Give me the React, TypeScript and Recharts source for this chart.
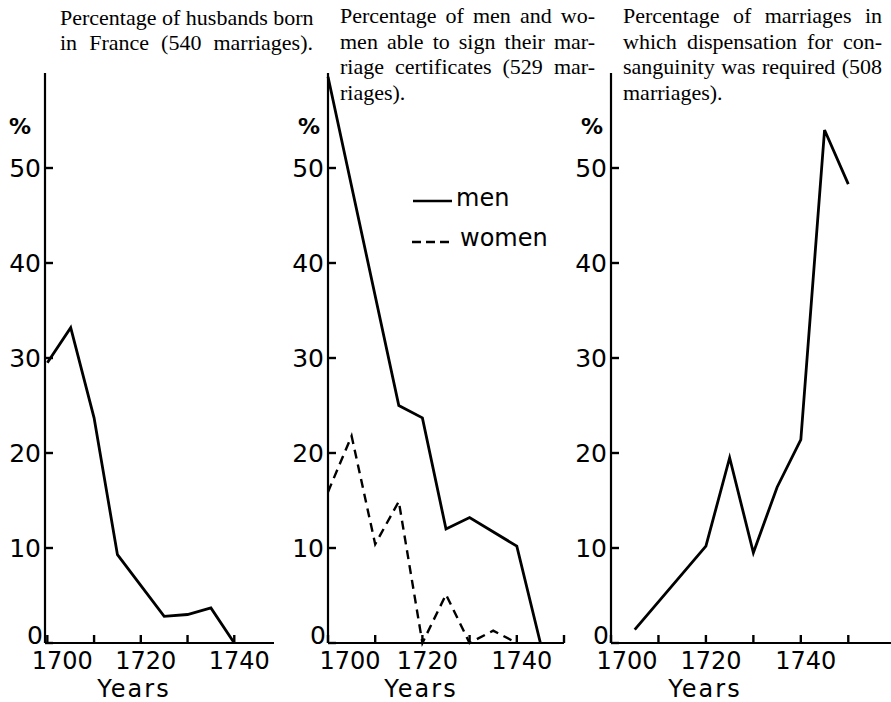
import { LineChart, Line, XAxis, YAxis, Legend } from "recharts";

const SANS = "'DejaVu Sans', sans-serif";
const SERIF = "'Liberation Serif', 'Times New Roman', serif";

const Y_TICKS = [0, 10, 20, 30, 40, 50];
const X_TICKS_SHORT = [1700, 1710, 1720, 1730, 1740];
const X_TICKS_LONG = [1700, 1710, 1720, 1730, 1740, 1750];

// husbands born in France
const FRANCE_YEARS = [1700, 1705, 1710, 1715, 1725, 1730, 1735, 1740];
const FRANCE_PCT = [29.5, 33.2, 23.7, 9.3, 2.8, 3.0, 3.7, 0];

// able to sign certificates
const MEN_YEARS = [1700, 1715, 1720, 1725, 1730, 1740, 1745];
const MEN_PCT = [59.6, 25.0, 23.7, 12.0, 13.2, 10.2, 0];
const WOMEN_YEARS = [1700, 1705, 1710, 1715, 1720, 1725, 1730, 1735, 1740];
const WOMEN_PCT = [15.9, 21.8, 10.4, 14.9, 0, 5.1, 0, 1.3, 0];

// dispensation for consanguinity
const CONSANG_YEARS = [1705, 1720, 1725, 1730, 1735, 1740, 1745, 1750];
const CONSANG_PCT = [1.4, 10.2, 19.5, 9.5, 16.4, 21.4, 54.0, 48.3];

const LEGEND_LABELS = ["men", "women"];

const TITLE_1 = ["Percentage of husbands born", "in France (540 marriages)."];
const TITLE_2 = [
  "Percentage of men and wo-",
  "men able to sign their mar-",
  "riage certificates (529 mar-",
  "riages).",
];
const TITLE_3 = [
  "Percentage of marriages in",
  "which dispensation for con-",
  "sanguinity was required (508",
  "marriages).",
];

const toRows = (years: number[], vals: number[]) =>
  years.map((year, i) => ({ year, pct: vals[i] }));

// ticks point inwards: negative tickSize, margin brings the label anchor back onto the axis
const TICK_IN = -8;
const tickMark = { stroke: "#000", strokeWidth: 2.4 };
const axisLine = { stroke: "#000", strokeWidth: 2.2 };

function XTick(props: any) {
  const { x, y, payload, firstDx } = props;
  const v = payload.value;
  if (v % 20 !== 0) return <g />;
  return (
    <text
      x={x + (v === 1700 ? firstDx : 5)}
      y={y + 26}
      textAnchor="middle"
      fontFamily={SANS}
      fontSize={24}
      fill="#000"
    >
      {v}
    </text>
  );
}

function YTick(props: any) {
  const { x, y, payload } = props;
  const v = payload.value;
  return (
    <text
      x={v === 0 ? x - 2 : x - 4}
      y={v === 0 ? y + 1 : y + 9}
      textAnchor="end"
      fontFamily={SANS}
      fontSize={25}
      fill="#000"
    >
      {v}
    </text>
  );
}

function AxisText({ ax, ay, text, bold }: { ax: number; ay: number; text: string; bold?: boolean }) {
  return (
    <text
      x={ax}
      y={ay}
      textAnchor="middle"
      fontFamily={SANS}
      fontSize={bold ? 22 : 24}
      fontWeight={bold ? 700 : 400}
      letterSpacing={bold ? 0 : 2}
      fill="#000"
    >
      {text}
    </text>
  );
}

function SignLegend() {
  return (
    <svg width={150} height={80} style={{ display: "block" }}>
      <line x1={3} x2={42} y1={21} y2={21} stroke="#000" strokeWidth={2.6} />
      <text x={46} y={26} fontFamily={SANS} fontSize={24} fill="#000">
        {LEGEND_LABELS[0]}
      </text>
      <line x1={2} x2={39} y1={62} y2={62} stroke="#000" strokeWidth={2.6} strokeDasharray="9 5" />
      <text x={50} y={66} fontFamily={SANS} fontSize={24} fill="#000">
        {LEGEND_LABELS[1]}
      </text>
    </svg>
  );
}

function Title({ lines, left, top, width, lineHeight, justifyLast }: {
  lines: string[];
  left: number;
  top: number;
  width: number;
  lineHeight: number;
  justifyLast?: boolean;
}) {
  return (
    <div
      style={{
        position: "absolute",
        left,
        top,
        width,
        fontFamily: SERIF,
        fontSize: 22,
        lineHeight: `${lineHeight}px`,
        color: "#000",
      }}
    >
      {lines.map((t, i) => {
        const last = i === lines.length - 1;
        const just = !last || justifyLast;
        return (
          <div
            key={i}
            style={{
              whiteSpace: "nowrap",
              textAlign: just ? "justify" : "left",
              textAlignLast: just ? "justify" : "left",
            }}
          >
            {t}
          </div>
        );
      })}
    </div>
  );
}

export default function App() {
  const xProps = {
    type: "number" as const,
    dataKey: "year",
    interval: 0 as const,
    height: 1,
    tickSize: TICK_IN,
    tickMargin: -TICK_IN,
    axisLine,
    tickLine: tickMark,
  };
  const yProps = {
    type: "number" as const,
    domain: [0, 60],
    ticks: Y_TICKS,
    interval: 0 as const,
    width: 1,
    tickSize: TICK_IN,
    tickMargin: -TICK_IN,
    axisLine,
    tickLine: tickMark,
    tick: <YTick />,
  };

  return (
    <div
      style={{
        position: "absolute",
        left: 0,
        top: 0,
        width: 891,
        height: 702,
        background: "#fff",
        overflow: "hidden",
      }}
    >
      <Title lines={TITLE_1} left={60} top={5} width={253} lineHeight={25} justifyLast />
      <Title lines={TITLE_2} left={340} top={3} width={255} lineHeight={25.5} />
      <Title lines={TITLE_3} left={623} top={3} width={259} lineHeight={25.5} />

      {/* panel 1 */}
      <div style={{ position: "absolute", left: 0, top: 0 }}>
        <LineChart width={300} height={702} margin={{ top: 73, right: 26, bottom: 58, left: 44 }}>
          <XAxis
            {...xProps}
            domain={[1699.5, 1748.5]}
            ticks={X_TICKS_SHORT}
            tick={<XTick firstDx={15} />}
            label={<AxisText ax={134} ay={697} text="Years" />}
          />
          <YAxis {...yProps} label={<AxisText ax={20} ay={134} text="%" bold />} />
          <Line
            data={toRows(FRANCE_YEARS, FRANCE_PCT)}
            dataKey="pct"
            stroke="#000"
            strokeWidth={2.8}
            strokeLinejoin="miter"
            dot={false}
            isAnimationActive={false}
          />
        </LineChart>
      </div>

      {/* panel 2 */}
      <div style={{ position: "absolute", left: 280, top: 0 }}>
        <LineChart width={320} height={702} margin={{ top: 73, right: 36, bottom: 58, left: 47 }}>
          <XAxis
            {...xProps}
            domain={[1700, 1750]}
            ticks={X_TICKS_LONG}
            tick={<XTick firstDx={22} />}
            label={<AxisText ax={141} ay={697} text="Years" />}
          />
          <YAxis {...yProps} label={<AxisText ax={29} ay={134} text="%" bold />} />
          <Legend
            layout="vertical"
            verticalAlign="middle"
            align="center"
            content={() => <SignLegend />}
            wrapperStyle={{ left: 130, top: 180, width: 150, height: 80 }}
          />
          <Line
            name={LEGEND_LABELS[0]}
            data={toRows(MEN_YEARS, MEN_PCT)}
            dataKey="pct"
            stroke="#000"
            strokeWidth={2.8}
            strokeLinejoin="miter"
            dot={false}
            isAnimationActive={false}
          />
          <Line
            name={LEGEND_LABELS[1]}
            data={toRows(WOMEN_YEARS, WOMEN_PCT)}
            dataKey="pct"
            stroke="#000"
            strokeWidth={2.4}
            strokeDasharray="9 6"
            dot={false}
            isAnimationActive={false}
          />
        </LineChart>
      </div>

      {/* panel 3 */}
      <div style={{ position: "absolute", left: 560, top: 0 }}>
        <LineChart width={331} height={702} margin={{ top: 73, right: 0, bottom: 58, left: 50 }}>
          <XAxis
            {...xProps}
            domain={[1700, 1759]}
            ticks={X_TICKS_LONG}
            tick={<XTick firstDx={16} />}
            label={<AxisText ax={145} ay={697} text="Years" />}
          />
          <YAxis {...yProps} label={<AxisText ax={32} ay={134} text="%" bold />} />
          <Line
            data={toRows(CONSANG_YEARS, CONSANG_PCT)}
            dataKey="pct"
            stroke="#000"
            strokeWidth={2.8}
            strokeLinejoin="miter"
            dot={false}
            isAnimationActive={false}
          />
        </LineChart>
      </div>
    </div>
  );
}
